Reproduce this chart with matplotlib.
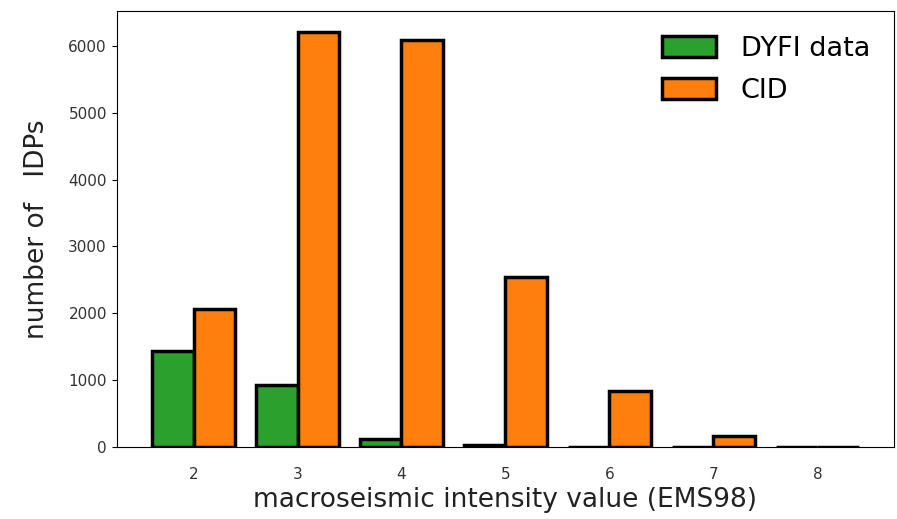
import numpy as np
import matplotlib
matplotlib.use("Agg")
import matplotlib.pyplot as plt

intensity = [2, 3, 4, 5, 6, 7, 8]
dyfi_counts = [1440, 935, 130, 40, 12, 8, 5]
cid_counts = [2060, 6200, 6080, 2545, 845, 165, 10]

x = np.array(intensity)
width = 0.4

fig, ax = plt.subplots(figsize=(8.97, 5.19), dpi=100)
ax.bar(x - width / 2, dyfi_counts, width, color='#2ca02c', edgecolor='black',
       linewidth=2.5, label='DYFI data')
ax.bar(x + width / 2, cid_counts, width, color='#ff7f0e', edgecolor='black',
       linewidth=2.5, label='CID')

ax.set_xticks(intensity)
ax.tick_params(axis='x', length=0, pad=14, labelsize=11, labelcolor='#333333')
ax.tick_params(axis='y', labelsize=11, labelcolor='#333333')
ax.set_xlabel("macroseismic intensity value (EMS98)", fontsize=19, color='#222222')
ax.set_ylabel("number of   IDPs", fontsize=19, color='#222222', labelpad=13)
ax.legend(frameon=False, fontsize=19.5, loc='upper right',
          labelspacing=0.6, handletextpad=0.9, handleheight=0.8)

fig.subplots_adjust(left=0.13, right=0.997, top=0.978, bottom=0.138)
fig.savefig("out.png")
